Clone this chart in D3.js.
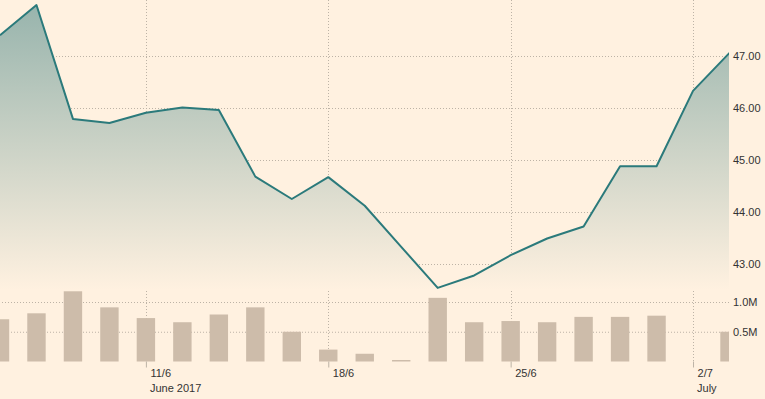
<!DOCTYPE html>
<html>
<head>
<meta charset="utf-8">
<script src="https://cdn.jsdelivr.net/npm/d3@7"></script>
<style>
  body { margin: 0; background: #fff1e0; }
  svg { display: block; font-family: "Liberation Sans", Arial, sans-serif; }
  .grid line { stroke: #bdb3a6; stroke-dasharray: 1,2; }
  .axis text { fill: #333; font-size: 11px; }
</style>
</head>
<body>
<div id="chart"></div>
<script>
// trading days shown on the chart
const dates = ["2017-06-06","2017-06-07","2017-06-08","2017-06-09","2017-06-12",
  "2017-06-13","2017-06-14","2017-06-15","2017-06-16","2017-06-19",
  "2017-06-20","2017-06-21","2017-06-22","2017-06-23","2017-06-26",
  "2017-06-27","2017-06-28","2017-06-29","2017-06-30","2017-07-03","2017-07-04"];
const prices = [47.40, 47.98, 45.79, 45.71, 45.91, 46.01, 45.96, 44.68, 44.25, 44.67,
  44.12, 43.33, 42.54, 42.78, 43.17, 43.49, 43.72, 44.88, 44.88, 46.33, 47.06];
const volumes = [0.71, 0.81, 1.18, 0.91, 0.73, 0.66, 0.79, 0.91, 0.50, 0.20,
  0.13, 0.025, 1.07, 0.66, 0.68, 0.66, 0.75, 0.75, 0.77, 0, 0.50]; // millions
const priceTicks = [43, 44, 45, 46, 47];
const volumeTicks = [0.5, 1.0];
const dateTickIdx = [4, 9, 14, 19];
const dateTickLabels = ["11/6", "18/6", "25/6", "2/7"];
const periodLabels = [{idx: 4, text: "June 2017"}, {idx: 19, text: "July"}];

const W = 765, H = 399;
const plotW = 729;
const priceBottom = 290;
const volBase = 361.5;

const svg = d3.select("#chart").append("svg").attr("width", W).attr("height", H);

const x = d3.scaleLinear().domain([0, dates.length - 1]).range([0, 729.5]);
const yP = d3.scaleLinear().domain([43, 47]).range([264, 56]);
const yV = d3.scaleLinear().domain([0, 1]).range([volBase, 302]);

const defs = svg.append("defs");
defs.append("clipPath").attr("id", "plot")
  .append("rect").attr("x", 0).attr("y", 0).attr("width", plotW).attr("height", H);
const grad = defs.append("linearGradient").attr("id", "fade")
  .attr("gradientUnits", "userSpaceOnUse")
  .attr("x1", 0).attr("x2", 0).attr("y1", 0).attr("y2", priceBottom);
grad.append("stop").attr("offset", 0).attr("stop-color", "#96b3ac");
grad.append("stop").attr("offset", 1).attr("stop-color", "#fff1e0");

// price axis + horizontal grid
svg.append("g")
  .attr("class", "axis grid")
  .attr("transform", "translate(" + plotW + ",0)")
  .call(d3.axisRight(yP).tickValues(priceTicks).tickSize(-plotW).tickPadding(4)
    .tickFormat(d3.format(".2f")))
  .call(g => g.select(".domain").remove());

// volume axis + grid
svg.append("g")
  .attr("class", "axis grid")
  .attr("transform", "translate(" + plotW + ",0)")
  .call(d3.axisRight(yV).tickValues(volumeTicks).tickSize(-plotW).tickPadding(4)
    .tickFormat(d => d.toFixed(1) + "M"))
  .call(g => g.select(".domain").remove());

// vertical grid
svg.append("g").attr("class", "grid")
  .selectAll("line").data(dateTickIdx).join("line")
  .attr("x1", d => Math.round(x(d)) + 0.5).attr("x2", d => Math.round(x(d)) + 0.5)
  .attr("y1", 0).attr("y2", volBase);

const plot = svg.append("g").attr("clip-path", "url(#plot)");

const idx = d3.range(prices.length);

plot.append("path")
  .datum(idx)
  .attr("fill", "url(#fade)")
  .attr("d", d3.area().x(i => x(i)).y0(priceBottom).y1(i => yP(prices[i])));

plot.append("path")
  .datum(idx)
  .attr("fill", "none")
  .attr("stroke", "#2b7a7b")
  .attr("stroke-width", 2)
  .attr("stroke-linejoin", "round")
  .attr("d", d3.line().x(i => x(i)).y(i => yP(prices[i])));

const barW = 18.4;
plot.selectAll("rect.vol")
  .data(idx.filter(i => volumes[i] > 0))
  .join("rect")
  .attr("class", "vol")
  .attr("x", i => x(i) - barW / 2)
  .attr("y", i => yV(volumes[i]))
  .attr("width", barW)
  .attr("height", i => volBase - yV(volumes[i]))
  .attr("fill", "#cdbcaa");

// date axis
const xAxis = svg.append("g")
  .attr("class", "axis")
  .attr("transform", "translate(0," + volBase + ")")
  .call(d3.axisBottom(x).tickValues(dateTickIdx).tickSize(6)
    .tickFormat((d, i) => dateTickLabels[i]));
xAxis.select(".domain").remove();
xAxis.selectAll(".tick line").attr("stroke", "#bdb3a6");
xAxis.selectAll(".tick text")
  .attr("text-anchor", "start").attr("x", 4).attr("y", 15.5).attr("dy", null);

svg.append("g").attr("class", "axis")
  .selectAll("text").data(periodLabels).join("text")
  .attr("x", d => x(d.idx) + 4)
  .attr("y", 391.5)
  .text(d => d.text);
</script>
</body>
</html>
